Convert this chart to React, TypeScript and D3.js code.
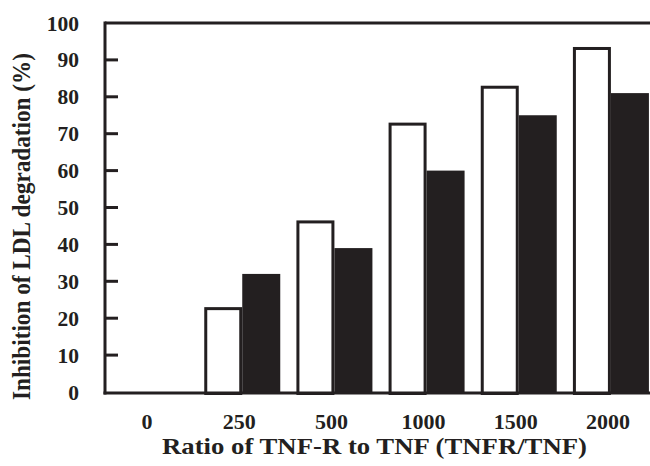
import React from "react";
import * as d3 from "d3";

const categories = ["0", "250", "500", "1000", "1500", "2000"];
const openValues = [0, 23, 46.5, 73, 83, 93.5];
const filledValues = [0, 32, 39, 60, 75, 81];
const yTicks = [0, 10, 20, 30, 40, 50, 60, 70, 80, 90, 100];
const yTitle = "Inhibition of LDL degradation (%)";
const xTitle = "Ratio of TNF-R to TNF (TNFR/TNF)";

const W = 650;
const H = 466;
const INK = "#231f20";
const FONT = "'Liberation Serif', 'Times New Roman', serif";

export default function App() {
  const left = 105;
  const top = 23;
  const bottom = 392;
  const right = 650;
  const y = d3.scaleLinear().domain([0, 100]).range([bottom, top]);
  const x = d3.scaleBand<string>().domain(categories).range([104, 657]).padding(0);
  const barW = 38;
  const center = (c: string) => (x(c) as number) + x.bandwidth() / 2;

  return (
    <svg
      width={W}
      height={H}
      style={{ position: "absolute", left: 0, top: 0, background: "#fff" }}
      fontFamily={FONT}
      fontWeight="bold"
      fill={INK}
    >
      {/* bars */}
      {categories.map((c, i) => {
        const cx = center(c);
        const ho = y(0) - y(openValues[i]);
        const hf = y(0) - y(filledValues[i]);
        return (
          <g key={c}>
            {hf > 0 && (
              <rect x={cx} y={y(filledValues[i])} width={barW} height={hf} fill={INK} />
            )}
            {ho > 0 && (
              <rect
                x={cx - barW + 1.5}
                y={y(openValues[i]) + 1.5}
                width={barW - 3}
                height={ho}
                fill="#fff"
                stroke={INK}
                strokeWidth={3}
              />
            )}
          </g>
        );
      })}
      {/* frame */}
      <line x1={left} x2={right} y1={top} y2={top} stroke={INK} strokeWidth={3} />
      <line x1={left} x2={left} y1={top - 1.5} y2={bottom + 2.5} stroke={INK} strokeWidth={3} />
      <line x1={left - 1.5} x2={right} y1={bottom + 1} y2={bottom + 1} stroke={INK} strokeWidth={3} />
      {/* y ticks */}
      {yTicks.map((t) => (
        <g key={t}>
          {t > 0 && t < 100 && (
            <line x1={left} x2={left + 13} y1={y(t)} y2={y(t)} stroke={INK} strokeWidth={3} />
          )}
          <text x={79} y={y(t)} dy="0.35em" textAnchor="end" fontSize={21.5}>
            {t}
          </text>
        </g>
      ))}
      {/* x labels */}
      {categories.map((c) => (
        <text key={c} x={center(c) - 3} y={429} textAnchor="middle" fontSize={22}>
          {c}
        </text>
      ))}
      <text
        x={374.5}
        y={454}
        textAnchor="middle"
        fontSize={22.5}
        textLength={425}
        lengthAdjust="spacingAndGlyphs"
      >
        {xTitle}
      </text>
      <text
        transform={`translate(30, 226.5) rotate(-90)`}
        textAnchor="middle"
        fontSize={25}
        textLength={347}
        lengthAdjust="spacingAndGlyphs"
      >
        {yTitle}
      </text>
    </svg>
  );
}
